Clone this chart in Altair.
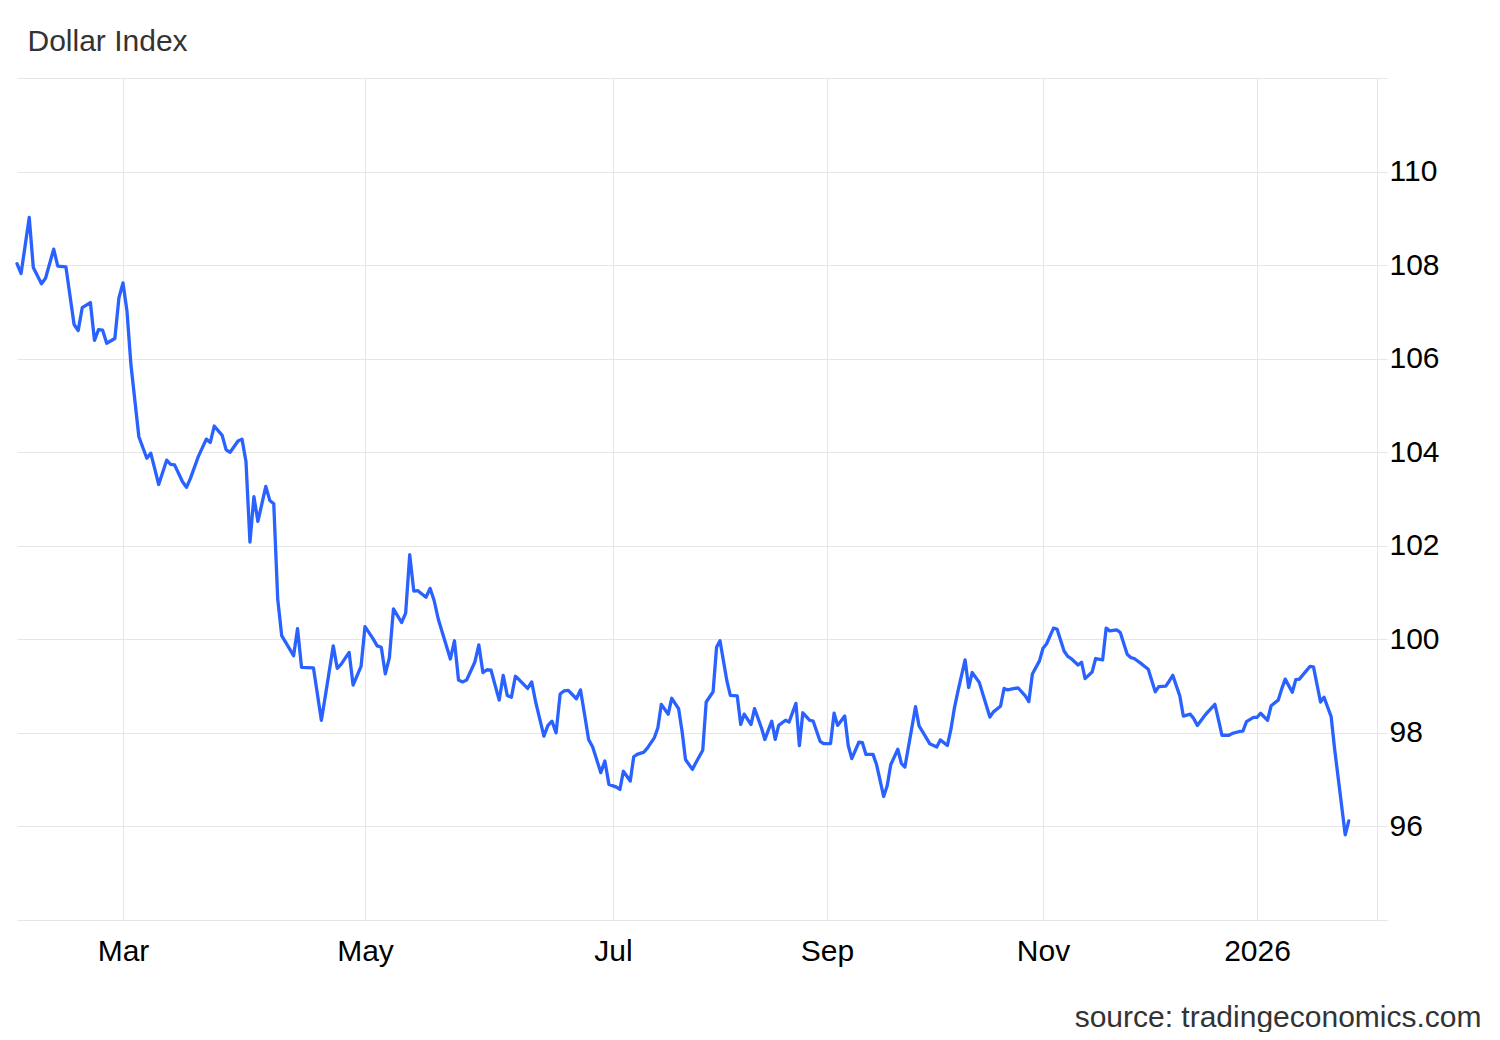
import altair as alt
import pandas as pd

FONT = "Liberation Sans, Arial, sans-serif"

dates = [
    "2025-02-03", "2025-02-04", "2025-02-06", "2025-02-07", "2025-02-09", "2025-02-10",
    "2025-02-12", "2025-02-13", "2025-02-15", "2025-02-17", "2025-02-18", "2025-02-19",
    "2025-02-21", "2025-02-22", "2025-02-23", "2025-02-24", "2025-02-25", "2025-02-27",
    "2025-02-28", "2025-03-01", "2025-03-02", "2025-03-03", "2025-03-05", "2025-03-07",
    "2025-03-08", "2025-03-10", "2025-03-12", "2025-03-13", "2025-03-14", "2025-03-16",
    "2025-03-17", "2025-03-18", "2025-03-20", "2025-03-22", "2025-03-23", "2025-03-24",
    "2025-03-26", "2025-03-27", "2025-03-28", "2025-03-30", "2025-03-31", "2025-04-01",
    "2025-04-02", "2025-04-03", "2025-04-04", "2025-04-06", "2025-04-07", "2025-04-08",
    "2025-04-09", "2025-04-10", "2025-04-13", "2025-04-14", "2025-04-15", "2025-04-18",
    "2025-04-20", "2025-04-21", "2025-04-23", "2025-04-24", "2025-04-25", "2025-04-27",
    "2025-04-28", "2025-04-30", "2025-05-01", "2025-05-03", "2025-05-04", "2025-05-05",
    "2025-05-06", "2025-05-07", "2025-05-08", "2025-05-10", "2025-05-11", "2025-05-12",
    "2025-05-13", "2025-05-14", "2025-05-16", "2025-05-17", "2025-05-18", "2025-05-19",
    "2025-05-20", "2025-05-22", "2025-05-23", "2025-05-24", "2025-05-25", "2025-05-26",
    "2025-05-28", "2025-05-29", "2025-05-30", "2025-05-31", "2025-06-01", "2025-06-03",
    "2025-06-04", "2025-06-05", "2025-06-06", "2025-06-07", "2025-06-08", "2025-06-10",
    "2025-06-11", "2025-06-12", "2025-06-14", "2025-06-15", "2025-06-16", "2025-06-17",
    "2025-06-18", "2025-06-19", "2025-06-20", "2025-06-22", "2025-06-23", "2025-06-24",
    "2025-06-25", "2025-06-26", "2025-06-28", "2025-06-29", "2025-06-30", "2025-07-02",
    "2025-07-03", "2025-07-04", "2025-07-06", "2025-07-07", "2025-07-08", "2025-07-10",
    "2025-07-11", "2025-07-13", "2025-07-14", "2025-07-15", "2025-07-17", "2025-07-18",
    "2025-07-20", "2025-07-21", "2025-07-22", "2025-07-24", "2025-07-25", "2025-07-27",
    "2025-07-28", "2025-07-30", "2025-07-31", "2025-08-01", "2025-08-03", "2025-08-04",
    "2025-08-06", "2025-08-07", "2025-08-08", "2025-08-10", "2025-08-11", "2025-08-13",
    "2025-08-14", "2025-08-16", "2025-08-17", "2025-08-18", "2025-08-20", "2025-08-21",
    "2025-08-23", "2025-08-24", "2025-08-25", "2025-08-27", "2025-08-28", "2025-08-30",
    "2025-08-31", "2025-09-02", "2025-09-03", "2025-09-04", "2025-09-06", "2025-09-07",
    "2025-09-08", "2025-09-10", "2025-09-11", "2025-09-12", "2025-09-14", "2025-09-15",
    "2025-09-17", "2025-09-18", "2025-09-19", "2025-09-21", "2025-09-22", "2025-09-23",
    "2025-09-26", "2025-09-27", "2025-09-29", "2025-09-30", "2025-10-02", "2025-10-03",
    "2025-10-05", "2025-10-06", "2025-10-07", "2025-10-08", "2025-10-10", "2025-10-11",
    "2025-10-12", "2025-10-14", "2025-10-15", "2025-10-17", "2025-10-18", "2025-10-20",
    "2025-10-21", "2025-10-22", "2025-10-24", "2025-10-25", "2025-10-27", "2025-10-28",
    "2025-10-29", "2025-10-31", "2025-11-01", "2025-11-02", "2025-11-04", "2025-11-05",
    "2025-11-07", "2025-11-08", "2025-11-09", "2025-11-11", "2025-11-12", "2025-11-13",
    "2025-11-15", "2025-11-16", "2025-11-18", "2025-11-19", "2025-11-20", "2025-11-22",
    "2025-11-23", "2025-11-25", "2025-11-26", "2025-11-27", "2025-11-29", "2025-11-30",
    "2025-12-01", "2025-12-03", "2025-12-04", "2025-12-06", "2025-12-07", "2025-12-08",
    "2025-12-10", "2025-12-11", "2025-12-13", "2025-12-14", "2025-12-15", "2025-12-17",
    "2025-12-18", "2025-12-20", "2025-12-21", "2025-12-22", "2025-12-24", "2025-12-25",
    "2025-12-27", "2025-12-28", "2025-12-29", "2025-12-31", "2026-01-01", "2026-01-02",
    "2026-01-04", "2026-01-05", "2026-01-07", "2026-01-08", "2026-01-09", "2026-01-11",
    "2026-01-12", "2026-01-13", "2026-01-15", "2026-01-16", "2026-01-17", "2026-01-19",
    "2026-01-20", "2026-01-22", "2026-01-23", "2026-01-24", "2026-01-26", "2026-01-27",
]

values = [
    108.03, 107.82, 109.02, 107.95, 107.60, 107.72,
    108.34, 107.98, 107.96, 106.73, 106.60, 107.09,
    107.20, 106.39, 106.62, 106.61, 106.33, 106.43,
    107.30, 107.62, 107.02, 105.87, 104.33, 103.87,
    103.98, 103.31, 103.83, 103.74, 103.73, 103.37,
    103.25, 103.44, 103.91, 104.28, 104.21, 104.56,
    104.36, 104.05, 104.00, 104.24, 104.28, 103.80,
    102.08, 103.05, 102.52, 103.27, 102.97, 102.90,
    100.86, 100.08, 99.65, 100.23, 99.40, 99.39,
    98.27, 98.79, 99.86, 99.38, 99.47, 99.72,
    99.02, 99.42, 100.27, 100.01, 99.86, 99.83,
    99.26, 99.61, 100.65, 100.36, 100.56, 101.81,
    101.03, 101.04, 100.90, 101.09, 100.83, 100.44,
    100.15, 99.58, 99.97, 99.13, 99.09, 99.13,
    99.51, 99.88, 99.29, 99.35, 99.34, 98.70,
    99.23, 98.80, 98.76, 99.21, 99.13, 98.95,
    99.09, 98.65, 97.93, 98.16, 98.25, 98.00,
    98.83, 98.90, 98.91, 98.73, 98.92, 98.40,
    97.86, 97.70, 97.15, 97.40, 96.90, 96.84,
    96.79, 97.18, 96.97, 97.49, 97.54, 97.59,
    97.68, 97.90, 98.11, 98.61, 98.40, 98.74,
    98.52, 98.04, 97.43, 97.22, 97.36, 97.63,
    98.66, 98.88, 99.83, 99.97, 99.11, 98.80,
    98.79, 98.18, 98.40, 98.18, 98.52, 98.11,
    97.86, 98.25, 97.86, 98.16, 98.27, 98.23,
    98.63, 97.73, 98.43, 98.27, 98.25, 97.82,
    97.77, 97.77, 98.42, 98.16, 98.36, 97.73,
    97.45, 97.80, 97.79, 97.54, 97.54, 97.32,
    96.64, 96.87, 97.32, 97.65, 97.35, 97.27,
    98.56, 98.15, 97.90, 97.77, 97.70, 97.85,
    97.73, 98.08, 98.54, 98.90, 99.56, 98.97,
    99.29, 99.08, 98.83, 98.34, 98.45, 98.57,
    98.95, 98.92, 98.95, 98.96, 98.79, 98.67,
    99.26, 99.54, 99.81, 99.90, 100.24, 100.22,
    99.75, 99.64, 99.59, 99.45, 99.51, 99.16,
    99.30, 99.59, 99.56, 100.24, 100.18, 100.20,
    100.15, 99.68, 99.61, 99.59, 99.48, 99.42,
    99.36, 98.88, 98.99, 99.00, 99.11, 99.23,
    98.79, 98.36, 98.40, 98.30, 98.16, 98.36,
    98.45, 98.61, 98.29, 97.95, 97.95, 97.99,
    98.03, 98.04, 98.24, 98.33, 98.33, 98.42,
    98.27, 98.58, 98.70, 98.94, 99.15, 98.87,
    99.14, 99.15, 99.33, 99.42, 99.41, 98.66,
    98.76, 98.35, 97.65, 97.04, 95.82, 96.12,
]

# breakpoints of the reference's uneven time axis, and where each one sits
x_breaks = ["2025-02-03", "2025-03-01", "2025-05-01", "2025-07-01",
            "2025-09-01", "2025-11-01", "2026-01-01", "2026-02-04"]
x_break_pos = [0, 106, 348, 596, 810, 1026, 1240, 1360]
x_ticks = ["2025-03-01", "2025-05-01", "2025-07-01", "2025-09-01",
           "2025-11-01", "2026-01-01"]
y_ticks = [94, 96, 98, 100, 102, 104, 106, 108, 110, 112]


def ms(s):
    return int(pd.Timestamp(s, tz="UTC").value // 10**6)


df = pd.DataFrame({"t": [ms(s) for s in dates], "value": values})

GRID = "#e6e6e6"

chart = (
    alt.Chart(df)
    .mark_line(color="#2962ff", strokeWidth=3.3, strokeJoin="round", strokeCap="round")
    .encode(
        x=alt.X(
            "t:Q",
            scale=alt.Scale(type="linear", domain=[ms(s) for s in x_breaks],
                            range=x_break_pos, nice=False, zero=False),
            axis=alt.Axis(
                values=[ms(s) for s in x_ticks],
                labelExpr="utcmonth(datum.value) == 0 ? utcFormat(datum.value, '%Y') : utcFormat(datum.value, '%b')",
                title="source: tradingeconomics.com",
                titleX=1464,
                titleY=106,
                titleAlign="right",
                titleBaseline="alphabetic",
                titleAngle=0,
                titleFont=FONT,
                titleFontSize=30,
                titleFontWeight="normal",
                titleColor="#333333",
                domain=False,
                ticks=False,
                tickSize=0,
                labelPadding=16,
                labelFont=FONT,
                labelFontSize=30,
                labelColor="#000000",
                labelFlush=False,
                labelOverlap=False,
                grid=True,
                gridColor=GRID,
                gridWidth=1,
            ),
        ),
        y=alt.Y(
            "value:Q",
            scale=alt.Scale(domain=[94, 112], nice=False, zero=False),
            axis=alt.Axis(
                orient="right",
                values=y_ticks,
                labelExpr="datum.value == 94 || datum.value == 112 ? '' : datum.label",
                title="Dollar Index",
                titleX=-1350,
                titleY=-28,
                titleAlign="left",
                titleBaseline="alphabetic",
                titleAngle=0,
                titleFont=FONT,
                titleFontSize=30,
                titleFontWeight="normal",
                titleColor="#333333",
                domain=True,
                domainColor=GRID,
                ticks=True,
                tickColor=GRID,
                tickSize=10,
                labelPadding=2,
                labelFont=FONT,
                labelFontSize=30,
                labelColor="#000000",
                labelFlush=False,
                labelOverlap=False,
                grid=True,
                gridColor=GRID,
                gridWidth=1,
            ),
        ),
    )
    .properties(
        width=1360,
        height=842,
        autosize=alt.AutoSizeParams(type="none"),
        padding={"left": 9, "top": 70, "right": 115, "bottom": 112},
    )
    .configure_view(strokeWidth=0)
)

chart.save("out.html", embed_options={"renderer": "svg", "actions": False})
